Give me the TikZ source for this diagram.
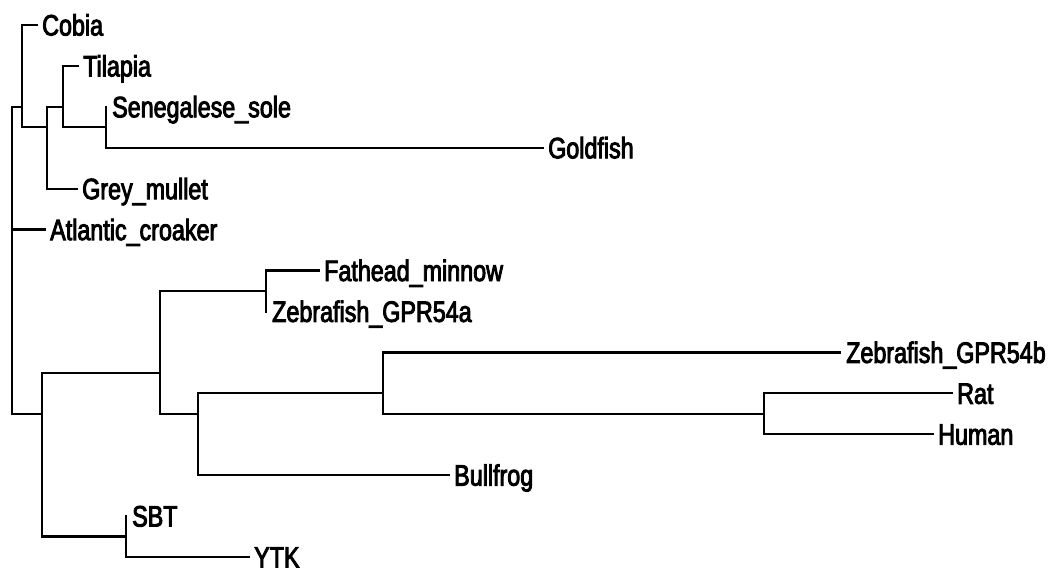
\documentclass[tikz,border=0pt]{standalone}
\usepackage{fontspec}
\setmainfont{Liberation Sans}[FakeStretch=0.79,FakeBold=3]
\begin{document}
\begin{tikzpicture}[x=1pt,y=-1pt,
  branch/.style={draw=black,line width=2.3pt,line join=miter,line cap=rect},
  taxon/.style={anchor=west,inner sep=0pt,text height=21pt,text depth=0pt,
    font=\fontsize{29.5}{30}\selectfont}]
\useasboundingbox (0,0) rectangle (1051,576);

% leaf tips (x = end of branch, y = row)
\coordinate (tCobia) at (37,25);
\coordinate (tTil)   at (78,65.9);
\coordinate (tSole)  at (106,106.8);
\coordinate (tGold)  at (543,147.8);
\coordinate (tGrey)  at (77,188.7);
\coordinate (tAtl)   at (45,229.6);
\coordinate (tFat)   at (319,270.5);
\coordinate (tZfa)   at (266,311.4);
\coordinate (tZfb)   at (840,352.4);
\coordinate (tRat)   at (952,393.3);
\coordinate (tHum)   at (933,434.2);
\coordinate (tBull)  at (449,475.1);
\coordinate (tSbt)   at (126,516);
\coordinate (tYtk)   at (249,557);

% internal nodes
\coordinate (nR) at (12,260);
\coordinate (nA) at (22,106.85);
\coordinate (nB) at (47,127.3);
\coordinate (nC) at (63,106.85);
\coordinate (nD) at (106,127.3);
\coordinate (nE) at (42,413.75);
\coordinate (nF) at (160,372.8);
\coordinate (nG) at (266,290.95);
\coordinate (nH) at (198,413.75);
\coordinate (nI) at (383,393.3);
\coordinate (nJ) at (764,413.75);
\coordinate (nK) at (126,536.5);

% branches
\draw[branch] (nA) -- (nA -| nR) -- (nE -| nR) -- (nE);
\draw[branch] (tAtl -| nR) -- (tAtl);
\draw[branch] (tCobia) -- (tCobia -| nA) -- (nB -| nA) -- (nB);
\draw[branch] (nC) -- (nC -| nB) -- (tGrey -| nB) -- (tGrey);
\draw[branch] (tTil) -- (tTil -| nC) -- (nD -| nC) -- (nD);
\draw[branch] (tSole) -- (tGold -| nD) -- (tGold);
\draw[branch] (nF) -- (nF -| nE) -- (nK -| nE) -- (nK);
\draw[branch] (nG) -- (nG -| nF) -- (nH -| nF) -- (nH);
\draw[branch] (tFat) -- (tFat -| nG) -- (tZfa);
\draw[branch] (nI) -- (nI -| nH) -- (tBull -| nH) -- (tBull);
\draw[branch] (tZfb) -- (tZfb -| nI) -- (nJ -| nI) -- (nJ);
\draw[branch] (tRat) -- (tRat -| nJ) -- (tHum -| nJ) -- (tHum);
\draw[branch] (tSbt) -- (tYtk -| nK) -- (tYtk);

% taxon labels
\node[taxon] (lCobia) at ([xshift=5pt]tCobia) {Cobia};
\node[taxon] (lTil)   at ([xshift=5pt]tTil)   {Tilapia};
\node[taxon] (lSole)  at ([xshift=6pt]tSole)  {Senegalese\_sole};
\node[taxon] (lGold)  at ([xshift=5pt]tGold)  {Goldfish};
\node[taxon] (lGrey)  at ([xshift=5pt]tGrey)  {Grey\_mullet};
\node[taxon] (lAtl)   at ([xshift=5pt]tAtl)   {Atlantic\_croaker};
\node[taxon] (lFat)   at ([xshift=5pt]tFat)   {Fathead\_minnow};
\node[taxon] (lZfa)   at ([xshift=6pt]tZfa)   {Zebrafish\_GPR54a};
\node[taxon] (lZfb)   at ([xshift=6pt]tZfb)   {Zebrafish\_GPR54b};
\node[taxon] (lRat)   at ([xshift=5pt]tRat)   {Rat};
\node[taxon] (lHum)   at ([xshift=5pt]tHum)   {Human};
\node[taxon] (lBull)  at ([xshift=5pt]tBull)  {Bullfrog};
\node[taxon] (lSbt)   at ([xshift=6pt]tSbt)   {SBT};
\node[taxon] (lYtk)   at ([xshift=5pt]tYtk)   {YTK};
\end{tikzpicture}
\end{document}
